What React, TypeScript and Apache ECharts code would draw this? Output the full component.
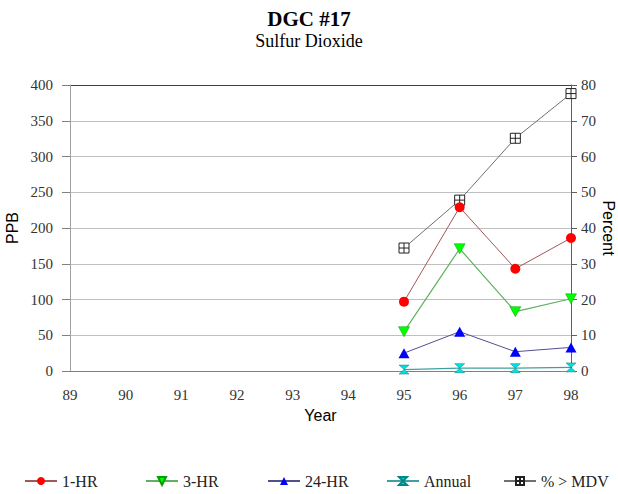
import React, { useEffect, useRef } from "react";
import * as echarts from "echarts";

const years = ["89", "90", "91", "92", "93", "94", "95", "96", "97", "98"];
const oneHr = [null, null, null, null, null, null, 97, 229, 143, 186];
const threeHr = [null, null, null, null, null, null, 55, 171, 83, 101];
const twentyFourHr = [null, null, null, null, null, null, 25, 55, 27, 33];
const annual = [null, null, null, null, null, null, 2, 4, 4, 5];
const pctMdv = [null, null, null, null, null, null, 34.4, 47.8, 65.1, 77.6];

const serif = "Liberation Serif";
const sans = "Liberation Sans";

export default function App() {
  const ref = useRef<HTMLDivElement>(null);
  useEffect(() => {
    if (!ref.current) return;
    const chart = echarts.init(ref.current, null, { renderer: "svg" });
    const legendBase = {
      bottom: 0,
      itemWidth: 32,
      itemHeight: 10,
      itemGap: 8,
      textStyle: { fontFamily: serif, fontSize: 16, color: "#222" },
    };
    const names = ["1-HR", "3-HR", "24-HR", "Annual", "% > MDV"];
    const lefts = [19, 140, 262, 381, 498];
    chart.setOption({
      animation: false,
      backgroundColor: "#fff",
      title: {
        text: "DGC #17",
        subtext: "Sulfur Dioxide",
        left: "center",
        top: 3,
        itemGap: 3,
        textStyle: { fontFamily: serif, fontSize: 21, fontWeight: "bold", color: "#000" },
        subtextStyle: { fontFamily: serif, fontSize: 18, color: "#000" },
      },
      legend: names.map((n, i) => ({ ...legendBase, left: lefts[i], data: [n] })),
      grid: { left: 70, right: 47, top: 85, bottom: 123, outerBoundsMode: "none", containLabel: false },
      xAxis: {
        type: "category",
        data: years,
        boundaryGap: false,
        name: "Year",
        nameLocation: "middle",
        nameGap: 36,
        nameTextStyle: { fontFamily: sans, fontSize: 16, color: "#000" },
        axisLine: { lineStyle: { color: "#808080" } },
        axisTick: { show: false },
        axisLabel: { fontFamily: serif, fontSize: 15, color: "#333", margin: 16 },
        splitLine: { show: false },
      },
      yAxis: [
        {
          type: "value",
          min: 0,
          max: 400,
          interval: 50,
          name: "PPB",
          nameLocation: "middle",
          nameRotate: 90,
          nameGap: 50,
          nameMoveOverlap: false,
          nameTextStyle: { fontFamily: sans, fontSize: 16, color: "#000" },
          axisLine: { show: true, lineStyle: { color: "#a0a0a0" } },
          axisTick: { show: true, length: 8, lineStyle: { color: "#808080" } },
          axisLabel: { fontFamily: serif, fontSize: 15, color: "#333", margin: 17 },
          splitLine: {
            show: true,
            lineStyle: {
              color: ["#c0c0c0", "#c0c0c0", "#c0c0c0", "#c0c0c0", "#c0c0c0", "#c0c0c0", "#c0c0c0", "#c0c0c0", "#404040"],
              width: 1,
            },
          },
        },
        {
          type: "value",
          min: 0,
          max: 80,
          interval: 10,
          position: "right",
          name: "Percent",
          nameLocation: "middle",
          nameRotate: -90,
          nameGap: 29,
          nameMoveOverlap: false,
          nameTextStyle: { fontFamily: sans, fontSize: 16, color: "#000" },
          axisLine: { show: true, lineStyle: { color: "#606060" } },
          axisTick: { show: true, length: 6, lineStyle: { color: "#606060" } },
          axisLabel: { fontFamily: serif, fontSize: 15, color: "#333", margin: 10 },
          splitLine: { show: false },
        },
      ],
      series: [
        {
          name: "1-HR",
          type: "line",
          data: oneHr,
          symbol: "circle",
          symbolSize: 10,
          itemStyle: { color: "#ff0000", borderColor: "#e00000", borderWidth: 0 },
          lineStyle: { color: "#a05858", width: 1 },
        },
        {
          name: "3-HR",
          type: "line",
          data: threeHr,
          symbol: "path://M0,0 L10,0 L5,9 Z",
          symbolSize: [11, 10],
          itemStyle: { color: "#00ff00", borderColor: "#00a000", borderWidth: 0.5 },
          lineStyle: { color: "#60b060", width: 1.2 },
        },
        {
          name: "24-HR",
          type: "line",
          data: twentyFourHr,
          symbol: "triangle",
          symbolSize: [11, 10],
          itemStyle: { color: "#0000ff" },
          lineStyle: { color: "#505090", width: 1 },
        },
        {
          name: "Annual",
          type: "line",
          data: annual,
          symbol: "path://M0,0 L10,0 L0,10 L10,10 Z",
          symbolSize: [10, 9],
          itemStyle: { color: "#00e0e0", borderColor: "#008888", borderWidth: 0.5 },
          lineStyle: { color: "#40a0a0", width: 1.2 },
        },
        {
          name: "% > MDV",
          type: "line",
          yAxisIndex: 1,
          data: pctMdv,
          symbol: "path://M0,0 H10 V10 H0 Z M5,0 V10 M0,5 H10",
          symbolSize: 10,
          itemStyle: { color: "#ffffff", borderColor: "#222", borderWidth: 1 },
          lineStyle: { color: "#707070", width: 1 },
          z: 1,
        },
      ],
    });
    return () => chart.dispose();
  }, []);
  return (
    <div
      ref={ref}
      style={{ position: "absolute", left: 0, top: 0, width: 618, height: 494 }}
    />
  );
}
